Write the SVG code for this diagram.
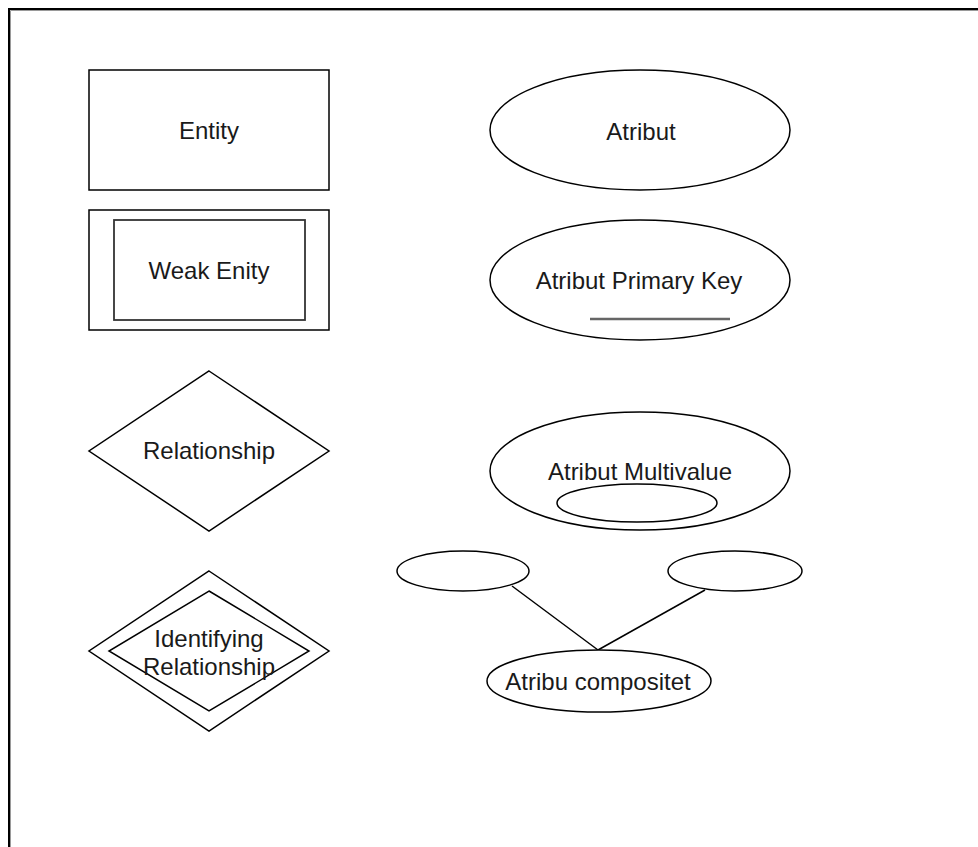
<svg xmlns="http://www.w3.org/2000/svg" width="978" height="847" viewBox="0 0 978 847">
  <style>
    .shape { fill: #ffffff; stroke: #000000; stroke-width: 1.5; }
    .inner { fill: none; stroke: #333333; stroke-width: 1.8; }
    .label { font-family: "Liberation Sans", Arial, sans-serif; font-size: 24px; fill: #1a1a1a; text-anchor: middle; }
    .edge { fill: none; stroke: #000000; stroke-width: 1.5; }
  </style>
  <rect width="978" height="847" fill="#ffffff"/>

  <!-- page frame (top and left edges only) -->
  <g id="frame">
    <path d="M10.5,847 V10.5 H978" fill="none" stroke="#9a9a9a" stroke-width="1"/>
    <path d="M9,847 V9 H978" fill="none" stroke="#000000" stroke-width="2"/>
  </g>

  <!-- connectors of the composite attribute -->
  <g id="connectors">
    <line class="edge" x1="512" y1="586" x2="598" y2="650"/>
    <line class="edge" x1="705" y1="590" x2="598" y2="650"/>
  </g>

  <g id="entity">
    <rect class="shape" x="89" y="70" width="240" height="120"/>
    <text class="label" x="209" y="139">Entity</text>
  </g>

  <g id="weak-entity">
    <rect class="shape" x="89" y="210" width="240" height="120"/>
    <rect class="inner" x="114" y="220" width="191" height="100"/>
    <text class="label" x="209" y="279">Weak Enity</text>
  </g>

  <g id="relationship">
    <polygon class="shape" points="209,371 329,451 209,531 89,451"/>
    <text class="label" x="209" y="459">Relationship</text>
  </g>

  <g id="identifying-relationship">
    <polygon class="shape" points="209,571 329,651 209,731 89,651"/>
    <polygon class="shape" points="209,591 309,651 209,711 109,651"/>
    <text class="label" x="209" y="647">Identifying</text>
    <text class="label" x="209" y="675">Relationship</text>
  </g>

  <g id="attribute">
    <ellipse class="shape" cx="640" cy="130" rx="150" ry="60"/>
    <text class="label" x="641" y="140">Atribut</text>
  </g>

  <g id="attribute-primary-key">
    <ellipse class="shape" cx="640" cy="280" rx="150" ry="60"/>
    <text class="label" x="639" y="289">Atribut Primary Key</text>
    <line x1="590" y1="319" x2="730" y2="319" stroke="#666666" stroke-width="2.5"/>
  </g>

  <g id="attribute-multivalue">
    <ellipse class="shape" cx="640" cy="471" rx="150" ry="59"/>
    <ellipse class="shape" cx="637" cy="503" rx="80" ry="19"/>
    <text class="label" x="640" y="480">Atribut Multivalue</text>
  </g>

  <g id="component-left">
    <ellipse class="shape" cx="463" cy="571" rx="66" ry="20"/>
  </g>

  <g id="component-right">
    <ellipse class="shape" cx="735" cy="571" rx="67" ry="20"/>
  </g>

  <g id="attribute-composite">
    <ellipse class="shape" cx="599" cy="681" rx="112" ry="31"/>
    <text class="label" x="598" y="690">Atribu compositet</text>
  </g>
</svg>
